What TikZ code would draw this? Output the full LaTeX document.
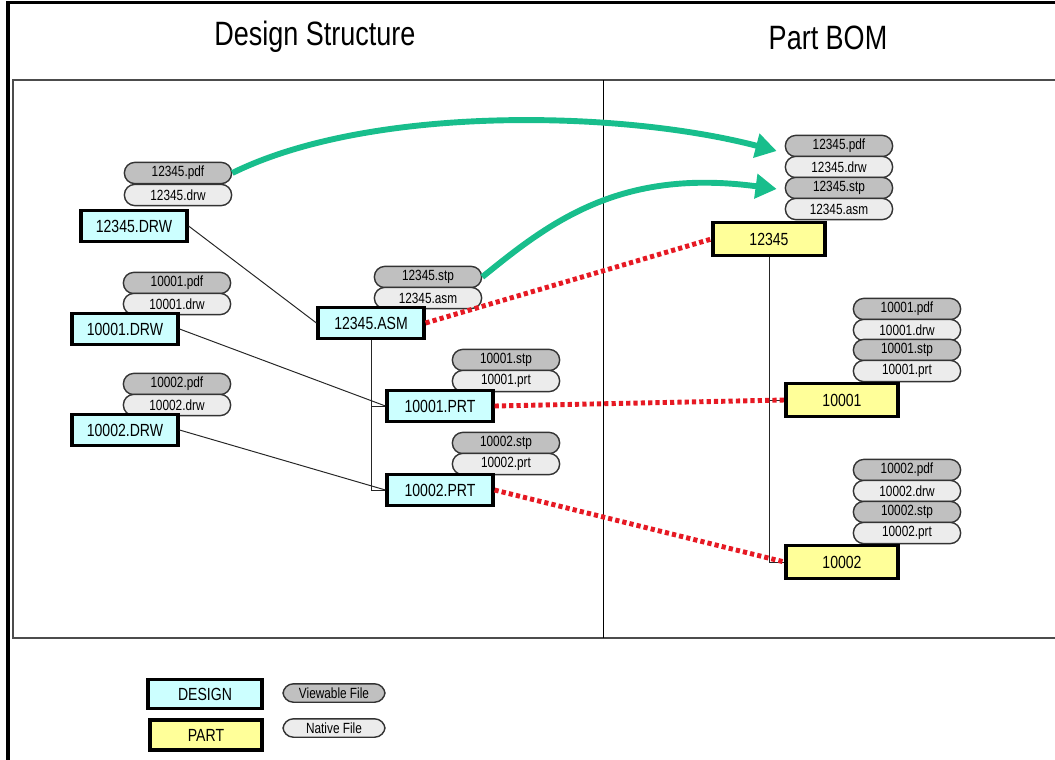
\documentclass[tikz,border=0pt]{standalone}
\usepackage{fontspec}
\setmainfont{Liberation Sans}[FakeStretch=0.8]
\usepackage{tikz}
\usetikzlibrary{arrows.meta, positioning, calc}

\definecolor{designfill}{RGB}{204,255,255}
\definecolor{partfill}{RGB}{255,255,153}
\definecolor{viewfill}{RGB}{192,192,192}
\definecolor{nativefill}{RGB}{236,236,236}
\definecolor{linkgreen}{RGB}{24,190,140}
\definecolor{mapred}{RGB}{230,25,35}

\begin{document}
\begin{tikzpicture}[
        x=0.025cm, y=-0.025cm,
        design/.style={draw, line width=2.2pt, fill=designfill, minimum width=2.65cm, minimum height=0.76cm, inner sep=0pt, font=\fontsize{12.5}{14}\selectfont},
        part/.style={draw, line width=2.2pt, fill=partfill, minimum width=2.8cm, minimum height=0.82cm, inner sep=0pt, font=\fontsize{12.5}{14}\selectfont},
        viewfile/.style={draw=black!80, line width=1pt, fill=viewfill, rounded corners=0.26cm, minimum width=2.68cm, minimum height=0.53cm, inner sep=0pt, font=\fontsize{10.5}{12}\selectfont},
        nativefile/.style={viewfile, fill=nativefill},
        title/.style={font=\fontsize{24}{28}\selectfont},
        link/.style={draw=black!85, line width=0.7pt},
        map/.style={draw=mapred, line width=3.5pt, dash pattern=on 3pt off 2.2pt},
        copyto/.style={draw=linkgreen, line width=4.2pt, -{Triangle[length=15pt,width=17pt]}}
    ]
\useasboundingbox (0,0) rectangle (1055,759);

% Page frame
\draw[line width=2.2pt] (8,760) -- (8,2.5) -- (1060,2.5);
\draw[line width=1.3pt, draw=black!70] (13,80) rectangle (1065,638);
\draw[line width=0.7pt] (603,80) -- (603,638);

% Headings
\node[title] (DStitle) at (315,37) {Design Structure};
\node[title] (PBtitle) at (828,38) {Part BOM};

% Design structure: drawings
\node[viewfile]   (D1pdf) at (178,173) {12345.pdf};
\node[nativefile] (D1drw) at (178,195) {12345.drw};
\node[design]     (D1)    at (134,226) {12345.DRW};

\node[viewfile]   (D2pdf) at (177,283) {10001.pdf};
\node[nativefile] (D2drw) at (177,304) {10001.drw};
\node[design]     (D2)    at (125,329) {10001.DRW};

\node[viewfile]   (D3pdf) at (177,384) {10002.pdf};
\node[nativefile] (D3drw) at (177,405) {10002.drw};
\node[design]     (D3)    at (125,430) {10002.DRW};

% Design structure: assembly and parts
\node[viewfile]   (Astp) at (428,277) {12345.stp};
\node[nativefile] (Aasm) at (428,298) {12345.asm};
\node[design]     (A)    at (371,323) {12345.ASM};

\node[viewfile]   (P1stp) at (506,360) {10001.stp};
\node[nativefile] (P1prt) at (506,381) {10001.prt};
\node[design]     (P1)    at (440,406) {10001.PRT};

\node[viewfile]   (P2stp) at (506,443) {10002.stp};
\node[nativefile] (P2prt) at (506,464) {10002.prt};
\node[design]     (P2)    at (440,490) {10002.PRT};

% Part BOM
\node[viewfile]   (B1pdf) at (839,146) {12345.pdf};
\node[nativefile] (B1drw) at (839,167) {12345.drw};
\node[viewfile]   (B1stp) at (839,188) {12345.stp};
\node[nativefile] (B1asm) at (839,209) {12345.asm};
\node[part]       (B1)    at (769,239) {12345};

\node[viewfile]   (B2pdf) at (907,309) {10001.pdf};
\node[nativefile] (B2drw) at (907,330) {10001.drw};
\node[viewfile]   (B2stp) at (907,350) {10001.stp};
\node[nativefile] (B2prt) at (907,371) {10001.prt};
\node[part]       (B2)    at (842,400) {10001};

\node[viewfile]   (B3pdf) at (907,470) {10002.pdf};
\node[nativefile] (B3drw) at (907,491) {10002.drw};
\node[viewfile]   (B3stp) at (907,512) {10002.stp};
\node[nativefile] (B3prt) at (907,533) {10002.prt};
\node[part]       (B3)    at (842,562) {10002};

% Legend
\node[design, minimum width=2.85cm, minimum height=0.72cm] (Ldesign) at (205,694) {DESIGN};
\node[part, minimum width=2.8cm, minimum height=0.75cm]    (Lpart)   at (206,735) {PART};
\node[viewfile, minimum width=2.55cm, minimum height=0.46cm]   (Lview)   at (334,693) {Viewable File};
\node[nativefile, minimum width=2.55cm, minimum height=0.46cm] (Lnative) at (334,728) {Native File};

% Drawings to models
\draw[link] (D1.east) -- (A.west);
\draw[link] (D2.east) -- (P1.west);
\draw[link] (D3.east) -- (P2.west);

% Assembly tree
\draw[link] (A.south) |- (P1.west);
\draw[link] (A.south) |- (P2.west);

% BOM tree
\draw[link] (B1.south) |- (B2.west);
\draw[link] (B1.south) |- (B3.west);

% Design to part mapping
\draw[map] (A.east) -- (B1.west);
\draw[map] (P1.east) -- (B2.west);
\draw[map] (P2.east) -- (B3.west);

% Files carried over to the part
\draw[copyto] (D1pdf.east) .. controls (370,105) and (620,110) .. ($(B1pdf.west)+(-8,5)$);
\draw[copyto] (Astp.east) .. controls (550,222) and (620,168) .. ($(B1stp.west)+(-8,1)$);
\end{tikzpicture}
\end{document}
